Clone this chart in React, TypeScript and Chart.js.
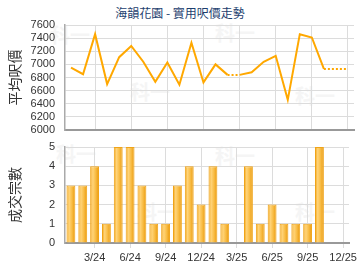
import React, { useEffect, useRef } from "react";
import { Chart, registerables } from "chart.js";

Chart.register(...registerables);

const months: string[] = [
  "1/24", "2/24", "3/24", "4/24", "5/24", "6/24", "7/24", "8/24", "9/24", "10/24", "11/24", "12/24",
  "1/25", "2/25", "3/25", "4/25", "5/25", "6/25", "7/25", "8/25", "9/25", "10/25", "11/25", "12/25",
];
const shownTicks: string[] = ["3/24", "6/24", "9/24", "12/24", "3/25", "6/25", "9/25", "12/25"];

const avgPrice: number[] = [
  6950, 6850, 7460, 6700, 7110, 7280, 7040, 6735, 7030, 6690, 7330, 6725,
  7000, 6840, 6840, 6880, 7040, 7130, 6460, 7460, 7410, 6930, 6930, 6930,
];
// months without transactions: price carried over, drawn dotted
const carriedMonths: string[] = ["3/25", "11/25", "12/25"];

const dealCount: number[] = [3, 3, 4, 1, 5, 5, 3, 1, 1, 3, 4, 2, 4, 1, 0, 4, 1, 2, 1, 1, 1, 5, 0, 0];

const priceTicks: number[] = [6000, 6200, 6400, 6600, 6800, 7000, 7200, 7400, 7600];
const countTicks: number[] = [0, 1, 2, 3, 4, 5];

const TITLE = "海韻花園 - 實用呎價走勢";
const Y1_TITLE = "平均呎價";
const Y2_TITLE = "成交宗數";
const WATERMARK = "科一";

const W = 360;
const H = 270;
const LEFT = 65;
const RIGHT_PAD = 6;
const CJK = "'Noto Sans CJK TC', 'Noto Sans', sans-serif";
const LATIN = "'Liberation Sans', Arial, sans-serif";
const GRID = "#dcdcdc";

const gridColorX = (ctx: any) => {
  const lbl = months[ctx.index];
  return shownTicks.includes(lbl) ? GRID : "rgba(0,0,0,0)";
};

export default function App() {
  const topRef = useRef<HTMLCanvasElement>(null);
  const botRef = useRef<HTMLCanvasElement>(null);

  useEffect(() => {
    const yTitle = (text: string) => ({
      display: true,
      text,
      color: "#333",
      font: { family: CJK, size: 14 },
      padding: { top: 6, bottom: 0 },
    });
    const yTicks = {
      autoSkip: false,
      color: "#333",
      font: { family: LATIN, size: 11 },
      padding: 10,
      callback: (v: any) => String(v),
    };

    const top = new Chart(topRef.current!, {
      type: "line",
      data: {
        labels: months,
        datasets: [
          {
            data: avgPrice,
            borderColor: "#FFA800",
            borderWidth: 2,
            pointRadius: 0,
            tension: 0,
            segment: {
              borderDash: (c: any) =>
                carriedMonths.includes(months[c.p1DataIndex]) ? [2, 2] : undefined,
            },
          },
        ],
      },
      options: {
        responsive: false,
        animation: false,
        layout: { padding: { top: 25, bottom: 140, left: 0, right: RIGHT_PAD } },
        plugins: { legend: { display: false }, tooltip: { enabled: false }, title: { display: false } },
        scales: {
          x: {
            type: "category",
            offset: true,
            afterFit: (s: any) => { s.height = 0; },
            ticks: { display: false },
            grid: { offset: false, color: gridColorX, drawTicks: false, lineWidth: 1 },
            border: { color: "#999", width: 2 },
          },
          y: {
            min: 6000,
            max: 7600,
            afterFit: (s: any) => { s.width = LEFT; },
            afterBuildTicks: (s: any) => { s.ticks = priceTicks.map((v) => ({ value: v })); },
            ticks: yTicks,
            grid: { color: GRID, drawTicks: false },
            border: { color: "#aaa", width: 1.5 },
            title: yTitle(Y1_TITLE),
          },
        },
      },
    } as any);

    const barFill = (ctx: any) => {
      const chart = ctx.chart;
      const xs = chart.scales && chart.scales.x;
      if (!xs || ctx.type !== "data" || !chart.chartArea) return "#F7B535";
      const cx = xs.getPixelForValue(ctx.dataIndex);
      const w = 9;
      const g = chart.ctx.createLinearGradient(cx - w / 2, 0, cx + w / 2, 0);
      g.addColorStop(0, "#F0A010");
      g.addColorStop(0.3, "#FFD47A");
      g.addColorStop(0.6, "#F9BE48");
      g.addColorStop(1, "#E99708");
      return g;
    };

    const bot = new Chart(botRef.current!, {
      type: "bar",
      data: {
        labels: months,
        datasets: [
          {
            data: dealCount,
            backgroundColor: barFill,
            borderColor: "#F0A418",
            borderWidth: { top: 1, left: 1, right: 1, bottom: 0 },
            barPercentage: 0.75,
            categoryPercentage: 1,
          },
        ],
      },
      options: {
        responsive: false,
        animation: false,
        layout: { padding: { top: 147, bottom: 0, left: 0, right: RIGHT_PAD } },
        plugins: { legend: { display: false }, tooltip: { enabled: false }, title: { display: false } },
        scales: {
          x: {
            type: "category",
            offset: true,
            afterFit: (s: any) => { s.height = 27; },
            ticks: {
              autoSkip: false,
              maxRotation: 0,
              color: "#333",
              font: { family: LATIN, size: 11 },
              padding: 3,
              callback: (_v: any, i: number) => (shownTicks.includes(months[i]) ? months[i] : ""),
            },
            grid: { offset: false, color: gridColorX, drawTicks: true, tickLength: 5, lineWidth: 1 },
            border: { color: "#999", width: 2 },
          },
          y: {
            min: 0,
            max: 5,
            afterFit: (s: any) => { s.width = LEFT; },
            afterBuildTicks: (s: any) => { s.ticks = countTicks.map((v) => ({ value: v })); },
            ticks: yTicks,
            grid: { color: GRID, drawTicks: false },
            border: { color: "#aaa", width: 1.5 },
            title: yTitle(Y2_TITLE),
          },
        },
      },
    } as any);

    return () => {
      top.destroy();
      bot.destroy();
    };
  }, []);

  const marks: [number, number][] = [
    [70, 35], [150, 92], [235, 33], [315, 96],
    [76, 154], [157, 212], [235, 156], [315, 212],
  ];

  return (
    <div
      style={{
        position: "fixed",
        left: 0,
        top: 0,
        width: W,
        height: H,
        background: "#fff",
        overflow: "hidden",
      }}
    >
      {marks.map(([x, y], i) => (
        <div
          key={i}
          style={{
            position: "absolute",
            left: x - 30,
            top: y - 12,
            width: 60,
            textAlign: "center",
            fontFamily: CJK,
            fontWeight: 700,
            fontSize: 20,
            lineHeight: "24px",
            color: "#f5f5f5",
          }}
        >
          {WATERMARK}
        </div>
      ))}
      <div
        style={{
          position: "absolute",
          left: 0,
          top: 4,
          width: W,
          textAlign: "center",
          fontFamily: CJK,
          fontSize: 12,
          lineHeight: "18px",
          color: "#1D3E6E",
        }}
      >
        {TITLE}
      </div>
      <canvas ref={topRef} width={W} height={H} style={{ position: "absolute", left: 0, top: 0 }} />
      <canvas ref={botRef} width={W} height={H} style={{ position: "absolute", left: 0, top: 0 }} />
    </div>
  );
}
